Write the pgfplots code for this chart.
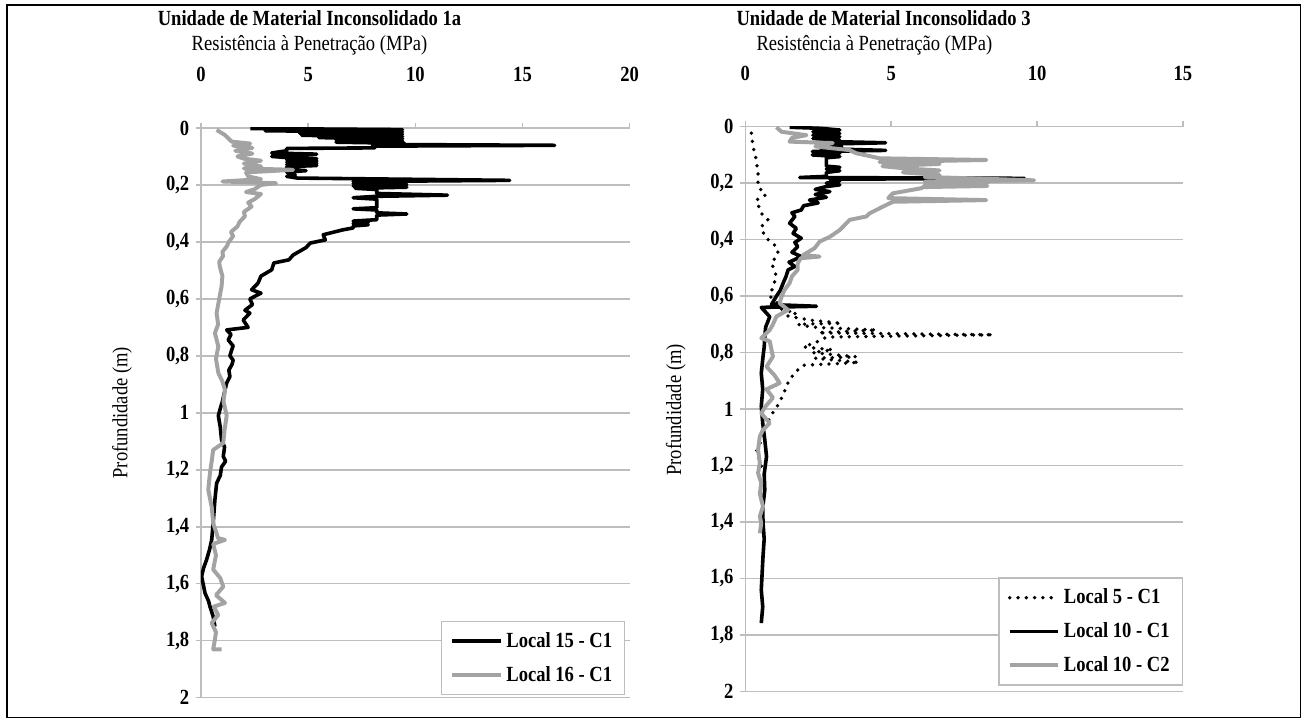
\documentclass[border=0pt]{standalone}
\usepackage{pgfplots}
\pgfplotsset{compat=1.18}
\usepackage{pgfplotstable}
\usepackage{fontspec}
\setmainfont{Liberation Serif}[FakeStretch=0.86]
\definecolor{lgray}{HTML}{A3A3A3}
\definecolor{gridc}{HTML}{BDBDBD}

% Local 15 - C1 (left, black)   columns: depth value
\pgfplotstableread{
d v
0.002 2.3
0.006 9.4
0.010 3.0
0.014 9.4
0.018 4.6
0.022 9.4
0.026 4.7
0.030 9.4
0.034 5.5
0.038 9.4
0.042 6.3
0.046 9.4
0.050 6.3
0.054 9.5
0.058 8.0
0.061 16.5
0.064 8.0
0.070 8.1
0.072 4.0
0.080 4.0
0.088 3.3
0.092 5.4
0.096 4.0
0.100 3.3
0.104 4.0
0.108 5.4
0.112 4.0
0.116 5.4
0.120 4.0
0.124 5.4
0.128 4.0
0.132 5.4
0.136 4.0
0.145 4.0
0.150 4.9
0.155 4.0
0.165 4.4
0.170 4.0
0.176 4.5
0.184 14.4
0.188 7.1
0.192 9.6
0.196 7.1
0.200 9.6
0.204 7.1
0.208 9.6
0.212 7.2
0.216 8.2
0.230 8.2
0.236 11.5
0.240 8.2
0.245 7.1
0.250 8.2
0.280 8.2
0.284 7.1
0.288 8.2
0.298 8.2
0.302 9.6
0.306 8.2
0.322 8.2
0.327 7.1
0.332 7.8
0.336 7.1
0.340 7.8
0.344 7.1
0.351 7.1
0.358 6.6
0.375 5.7
0.393 5.8
0.404 5.1
0.420 4.9
0.446 4.3
0.463 4.1
0.474 3.4
0.498 3.3
0.520 2.8
0.545 2.66
0.568 2.36
0.580 2.8
0.600 2.28
0.620 2.4
0.640 2.05
0.650 2.28
0.674 1.97
0.700 2.2
0.709 1.2
0.725 1.4
0.744 1.27
0.765 1.5
0.780 1.43
0.800 1.35
0.815 1.5
0.830 1.45
0.850 1.3
0.873 1.35
0.895 1.2
0.920 1.12
0.960 1.0
0.985 0.9
1.010 0.81
1.050 0.9
1.095 0.96
1.120 1.1
1.153 1.04
1.170 1.15
1.190 0.96
1.220 0.9
1.247 0.73
1.305 0.65
1.387 0.57
1.446 0.5
1.480 0.4
1.516 0.26
1.545 0.12
1.574 0.03
1.600 0.1
1.633 0.19
1.660 0.35
1.680 0.42
1.715 0.57
1.750 0.65
}\tabA

% Local 16 - C1 (left, gray)
\pgfplotstableread{
d v
0.007 0.73
0.025 1.12
0.048 1.43
0.055 2.3
0.062 1.5
0.070 2.4
0.080 1.6
0.090 2.4
0.100 1.7
0.108 2.0
0.115 2.8
0.125 2.0
0.135 2.8
0.142 2.0
0.147 4.3
0.156 2.1
0.170 2.2
0.180 2.8
0.188 1.0
0.194 3.5
0.200 2.8
0.215 2.5
0.225 2.1
0.232 2.8
0.250 2.5
0.262 2.2
0.276 2.36
0.295 2.0
0.310 2.05
0.330 1.8
0.346 1.7
0.365 1.4
0.380 1.5
0.400 1.3
0.416 1.2
0.435 1.0
0.450 1.03
0.470 0.85
0.487 0.88
0.520 1.0
0.557 0.96
0.600 0.85
0.650 0.73
0.690 0.8
0.720 0.65
0.767 0.81
0.810 0.7
0.860 0.81
0.890 1.0
0.920 1.12
0.960 1.05
1.010 1.2
1.060 1.1
1.106 1.04
1.130 0.57
1.170 0.5
1.210 0.42
1.270 0.34
1.330 0.5
1.387 0.57
1.440 0.8
1.446 1.12
1.460 0.57
1.500 0.7
1.550 0.57
1.580 0.9
1.610 1.04
1.640 0.7
1.667 1.12
1.680 0.6
1.710 0.8
1.738 0.5
1.770 0.7
1.796 0.65
1.830 0.57
1.830 0.96
}\tabB

% Local 5 - C1 (right, dotted)
\pgfplotstableread{
d v
0.023 0.21
0.070 0.27
0.118 0.38
0.165 0.44
0.212 0.44
0.242 0.70
0.260 0.38
0.307 0.55
0.330 0.78
0.354 0.55
0.390 0.67
0.425 1.07
0.448 1.13
0.484 0.90
0.496 0.95
0.530 1.07
0.600 0.84
0.625 1.10
0.645 1.20
0.660 1.75
0.670 1.45
0.685 2.20
0.696 3.30
0.700 1.80
0.710 2.30
0.720 4.50
0.730 2.50
0.737 8.50
0.745 2.80
0.760 2.50
0.780 2.00
0.790 3.00
0.800 2.30
0.815 3.80
0.820 2.40
0.835 3.90
0.845 2.00
0.870 1.70
0.910 1.45
0.950 1.30
0.990 1.10
1.020 0.90
1.050 0.75
1.100 0.60
1.150 0.38
1.200 0.55
1.230 0.60
}\tabC

% Local 10 - C1 (right, black)
\pgfplotstableread{
d v
0.002 1.52
0.006 2.6
0.012 3.24
0.018 2.32
0.024 3.24
0.030 2.32
0.036 3.24
0.042 2.32
0.048 3.24
0.052 2.6
0.057 4.81
0.062 2.6
0.070 3.3
0.078 2.6
0.084 4.81
0.088 2.3
0.094 3.24
0.100 2.3
0.106 3.24
0.110 2.78
0.140 2.78
0.144 3.24
0.150 2.78
0.156 3.24
0.162 2.78
0.176 2.78
0.180 1.87
0.183 9.57
0.186 2.9
0.192 3.24
0.200 2.78
0.206 3.24
0.212 2.78
0.222 2.4
0.230 2.9
0.240 2.4
0.250 2.78
0.260 2.2
0.270 2.5
0.280 2.0
0.295 1.92
0.305 1.6
0.318 1.7
0.342 1.52
0.360 1.75
0.378 1.64
0.395 1.92
0.410 1.7
0.425 1.8
0.445 1.6
0.460 1.92
0.480 1.5
0.495 1.7
0.507 1.47
0.530 1.4
0.554 1.3
0.580 1.2
0.600 1.07
0.630 0.9
0.636 2.44
0.640 0.55
0.673 0.84
0.710 0.7
0.743 0.67
0.780 0.65
0.814 0.61
0.873 0.55
0.930 0.6
0.990 0.55
1.050 0.6
1.109 0.67
1.168 0.73
1.230 0.65
1.286 0.67
1.350 0.6
1.404 0.61
1.460 0.65
1.520 0.61
1.580 0.58
1.640 0.55
1.700 0.6
1.758 0.55
}\tabD

% Local 10 - C2 (right, gray)
\pgfplotstableread{
d v
0.002 1.07
0.018 1.24
0.030 2.1
0.040 1.6
0.053 1.52
0.058 3.0
0.070 2.4
0.083 3.58
0.094 3.8
0.105 4.3
0.112 4.6
0.118 8.26
0.125 4.6
0.132 6.66
0.140 4.7
0.148 5.5
0.155 6.66
0.162 5.4
0.171 6.66
0.178 6.15
0.190 9.9
0.195 6.15
0.200 8.3
0.205 6.15
0.210 8.3
0.214 6.1
0.218 6.03
0.236 5.06
0.253 4.9
0.260 8.26
0.266 5.06
0.283 4.72
0.307 4.26
0.318 4.15
0.330 3.58
0.366 3.24
0.390 2.9
0.407 2.55
0.430 2.38
0.455 1.98
0.460 2.55
0.466 1.9
0.484 1.8
0.507 1.8
0.530 1.6
0.554 1.52
0.578 1.35
0.600 1.25
0.625 1.18
0.649 1.47
0.672 1.07
0.700 0.95
0.720 0.84
0.749 0.55
0.760 0.84
0.790 0.9
0.814 0.95
0.850 0.73
0.880 1.0
0.908 1.18
0.930 0.73
0.960 0.95
0.990 0.7
1.015 0.55
1.050 0.84
1.075 0.6
1.097 0.5
1.145 0.44
1.190 0.5
1.227 0.44
1.262 0.55
1.300 0.5
1.345 0.61
1.380 0.5
1.404 0.55
1.440 0.5
}\tabE

\pgfplotsset{
  common/.style={
    scale only axis,
    y dir=reverse,
    ymin=0, ymax=2,
    ytick={0,0.2,0.4,0.6,0.8,1,1.2,1.4,1.6,1.8,2},
    axis x line*=top,
    axis y line*=left,
    axis line style={color=gridc, line width=0.8pt, -},
    ymajorgrids=true,
    xmajorgrids=false,
    major grid style={color=gridc, line width=0.8pt},
    tick align=outside,
    major tick length=3pt,
    tick style={color=gridc, line width=0.8pt},
    xticklabel shift=19pt,
    /pgf/number format/.cd, use comma, fixed, assume math mode=true,
    /pgfplots/.cd,
    ticklabel style={font=\bfseries\fontsize{12}{14}\selectfont},
    legend cell align=left,
    legend image code/.code={\draw[##1] (0pt,0pt) -- (27pt,0pt);},
    legend style={draw=gridc, line width=0.8pt, font=\bfseries\fontsize{12}{14}\selectfont,
      row sep=5pt, inner xsep=5pt, inner ysep=4pt},
  },
  blk/.style={black, line width=2pt, line join=round},
  gry/.style={lgray, line width=2.2pt, line join=round},
}

\begin{document}
\begin{tikzpicture}[font=\fontsize{12}{14}\selectfont]
\useasboundingbox (0pt,0pt) rectangle (727pt,400pt);
\draw[line width=0.8pt] (3.9pt,1.1pt) rectangle (722.8pt,397.2pt);

\begin{axis}[common,
  at={(111.7pt,328.9pt)}, anchor=north west,
  width=238.3pt, height=316.7pt,
  xmin=0, xmax=20, xtick={0,5,10,15,20},
  legend style={at={(0.99,0.004)}, anchor=south east},
]
\addplot[blk] table[x=v, y=d] {\tabA};
\addlegendentry{Local 15 - C1}
\addplot[gry] table[x=v, y=d] {\tabB};
\addlegendentry{Local 16 - C1}
\end{axis}

\begin{axis}[common,
  at={(414.2pt,329.6pt)}, anchor=north west,
  width=243.3pt, height=313.9pt,
  xmin=0, xmax=15, xtick={0,5,10,15},
  legend style={at={(1.0,0.01)}, anchor=south east},
]
\addplot[black, line width=2.1pt, line cap=round, dash pattern=on 0pt off 4.6pt] table[x=v, y=d] {\tabC};
\addlegendentry{Local 5 - C1}
\addplot[blk] table[x=v, y=d] {\tabD};
\addlegendentry{Local 10 - C1}
\addplot[gry] table[x=v, y=d] {\tabE};
\addlegendentry{Local 10 - C2}
\end{axis}

\node[font=\bfseries\fontsize{12}{14}\selectfont] at (172pt,390pt) {Unidade de Material Inconsolidado 1a};
\node at (172pt,375pt) {Resistência à Penetração (MPa)};
\node[font=\bfseries\fontsize{12}{14}\selectfont] at (491.1pt,390pt) {Unidade de Material Inconsolidado 3};
\node at (486pt,375pt) {Resistência à Penetração (MPa)};
\node[rotate=90] at (67.8pt,170.6pt) {Profundidade (m)};
\node[rotate=90] at (375.6pt,172.2pt) {Profundidade (m)};
\end{tikzpicture}
\end{document}
